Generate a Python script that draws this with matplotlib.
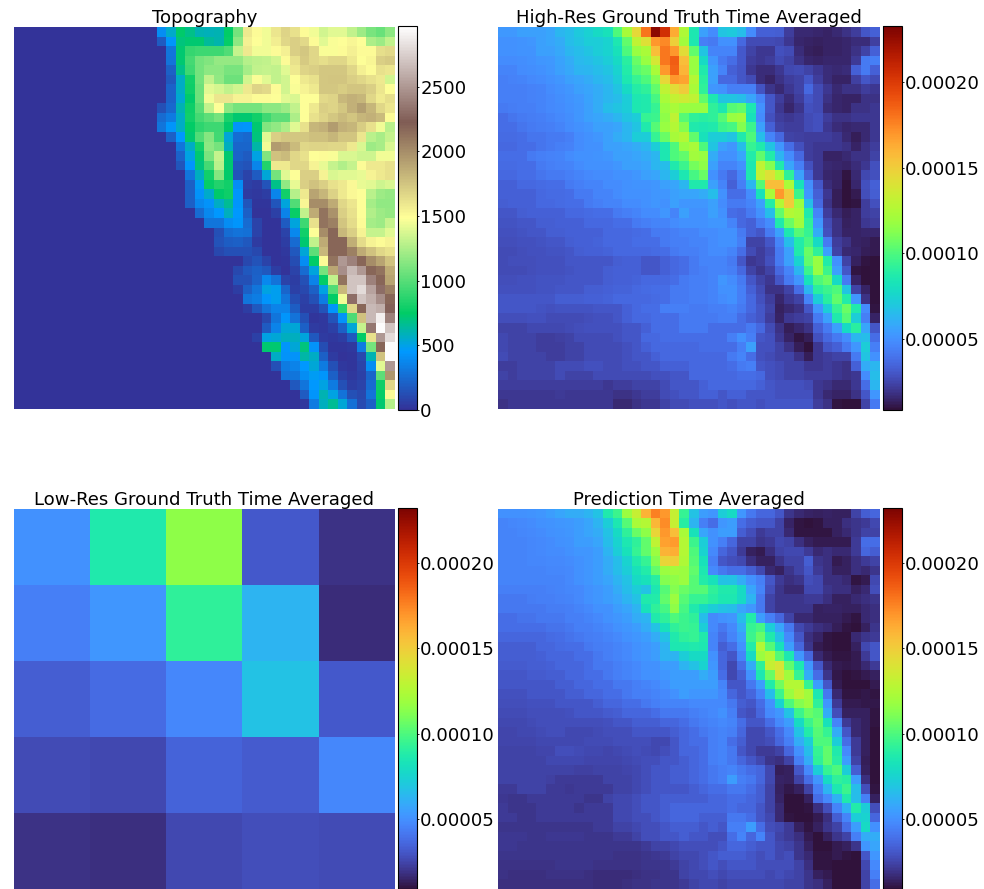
import numpy as np
import matplotlib
matplotlib.use('Agg')
import matplotlib.pyplot as plt

# topography in metres, rows are right aligned, everything left of them is 0
topo_rows = [
    [400,550,740,680,600,590,600,750,1080,1580,1500,1450,1600,1680,1620,1500,1450,1350,1400,1400,1300,1200,1100,1050,1150],
    [180,430,700,720,720,640,610,760,1150,1550,1480,1440,1560,1660,1700,1650,1500,1400,1470,1480,1520,1480,1250,1200,1300],
    [0,300,720,900,920,920,920,980,1320,1580,1450,1450,1500,1550,1700,1740,1660,1470,1470,1500,1550,1500,1500,1630,1650],
    [0,280,720,950,1080,1120,1180,1180,1180,1270,1290,1300,1350,1500,1620,1720,1660,1630,1660,1660,1580,1480,1520,1700,1720],
    [0,200,680,920,1080,1160,1150,1100,1100,1220,1300,1320,1300,1400,1580,1680,1700,1740,1740,1730,1660,1550,1500,1620,1590],
    [0,170,560,800,1080,1300,1170,1060,1060,1350,1470,1400,1300,1350,1480,1580,1620,1730,1750,1750,1700,1660,1620,1580,1350],
    [0,220,560,780,1060,1400,1360,1300,1350,1580,1680,1650,1500,1350,1470,1540,1580,1730,1730,1710,1750,1750,1700,1600,1480],
    [0,220,540,740,1060,1450,1600,1600,1540,1540,1500,1500,1480,1400,1380,1480,1480,1650,1680,1800,1840,1810,1660,1570,1630],
    [130,240,600,780,1000,1300,1480,1150,1080,1080,1080,1150,1150,1200,1300,1480,1580,1700,1680,1730,1840,1920,1820,1660,1590],
    [250,320,560,800,950,1020,1080,820,720,720,800,920,1020,1020,1250,1480,1620,1680,1740,1790,1750,1820,1840,1790,1500],
    [300,430,560,750,880,920,920,740,420,430,720,1120,1170,1250,1400,1620,1820,1840,1930,1840,1820,1710,1620,1450,1280],
    [0,200,450,720,980,1130,930,530,260,240,700,1400,1700,1740,1730,1730,1770,1770,1820,1750,1750,1600,1280,1240,1320],
    [0,0,300,560,800,1150,1080,570,230,230,620,1440,1930,1900,1790,1670,1680,1680,1670,1670,1580,1370,1200,1240,1370],
    [220,500,720,1100,1320,720,220,180,500,1120,1760,1790,1670,1620,1480,1500,1470,1380,1380,1340,1340,1450,1450],
    [160,440,700,950,1280,720,170,150,370,840,1580,1580,1660,1670,1540,1420,1320,1260,1320,1500,1580,1580,1620],
    [300,570,800,1130,740,150,70,180,530,1080,1400,1480,1700,1700,1540,1370,1400,1400,1420,1540,1580,1620],
    [200,470,760,840,800,400,60,40,150,680,1170,1420,1700,1760,1700,1620,1580,1510,1420,1400,1340,1370],
    [200,420,550,740,780,430,40,30,50,360,800,1270,1580,1900,1820,1690,1580,1510,1480,1280,1200,1180],
    [200,380,420,560,660,430,160,20,20,160,520,980,1520,2000,2000,1860,1660,1590,1480,1220,1170,1170],
    [250,380,450,580,450,200,0,0,60,350,770,1300,1860,2120,1980,1700,1620,1480,1260,1200,1180],
    [300,300,400,430,250,70,0,0,180,520,920,1620,2120,2060,1750,1640,1500,1220,1200,1320],
    [130,260,280,270,70,0,0,80,380,800,1480,2000,2180,1800,1700,1540,1320,1320,1400],
    [150,190,200,170,40,0,0,50,250,720,1300,1860,2180,2180,1850,1640,1540,1500,1540],
    [100,130,130,130,100,0,0,30,170,530,1020,1800,2180,2180,2060,1860,1760,1670,1620],
    [100,140,70,0,20,120,400,750,1500,2120,2500,2400,2180,2000,1900,1760],
    [100,170,200,170,50,0,70,250,520,1080,1880,2450,2650,2500,2180,2120,1860],
    [130,130,220,380,280,80,50,130,350,750,1300,2120,2700,2700,2400,2180,1900],
    [50,200,300,500,480,230,60,100,200,500,980,1800,2700,2800,2550,2300,2060],
    [300,330,430,480,300,120,60,130,330,750,1450,2300,2700,2600,2450,2180],
    [50,170,280,350,350,190,50,50,150,440,870,1660,2180,2650,2600,2250],
    [100,300,430,280,130,20,30,150,420,970,1760,2650,2900,2400],
    [180,350,530,530,200,40,30,60,200,530,1320,2350,2950,2700],
    [60,500,530,570,580,520,170,40,30,50,170,750,1620,2500,2800],
    [720,720,430,530,700,420,120,20,20,30,320,1080,2180,2950],
    [560,420,420,620,560,200,40,10,20,100,600,1760,2950],
    [130,320,350,450,530,320,130,30,20,80,400,1400,2500],
    [280,300,400,470,440,200,60,30,60,230,1020,1960],
    [170,300,450,500,320,130,50,80,250,780,1660],
    [180,430,600,500,280,130,100,280,760,1500],
    [30,320,570,650,530,270,110,200,720,1270],
]

# the three rainfall fields, in units of 1e-6
high_res = [
    [53,53,55,55,55,57,63,66,70,74,78,82,100,122,145,180,228,205,163,125,85,55,48,68,70,66,48,33,33,32,22,16,16,15,14,16,18,22,30,33],
    [50,50,51,52,55,57,60,66,68,72,72,75,85,104,130,141,169,174,149,120,85,44,42,50,50,36,26,26,26,25,20,15,14,13,14,14,15,17,17,23],
    [50,50,51,51,55,55,58,63,66,68,72,75,82,100,118,123,156,179,169,143,104,68,46,46,46,31,24,20,20,28,26,17,13,12,14,14,15,18,24,33],
    [48,48,49,50,52,53,56,60,64,66,68,72,78,90,106,118,138,179,187,156,118,78,52,42,38,31,22,20,22,26,24,18,15,14,15,15,15,21,42,44],
    [46,46,48,49,50,52,55,58,62,63,66,68,75,88,102,106,123,169,185,160,118,87,55,46,33,30,20,17,17,20,25,26,24,20,17,16,17,33,42,33],
    [44,45,46,47,48,50,52,55,57,60,63,66,72,85,94,100,112,146,169,166,126,90,55,36,36,30,26,17,14,18,22,24,30,22,17,14,14,23,30,26],
    [44,44,44,45,46,48,50,52,55,57,60,63,68,78,89,92,104,130,143,151,123,92,52,50,44,44,44,29,19,16,20,24,36,26,20,16,18,18,22,20],
    [44,44,44,45,46,47,49,51,53,56,60,63,66,72,85,87,98,123,132,135,130,104,85,68,68,66,57,46,30,22,17,22,30,26,18,15,14,14,18,18],
    [42,43,44,44,46,47,48,50,52,55,60,66,68,72,85,87,94,118,123,118,118,118,92,85,102,104,85,50,30,20,15,19,28,26,17,15,14,18,18,20],
    [38,40,42,43,44,46,47,49,52,55,57,60,63,68,72,94,96,115,130,102,92,90,92,102,118,120,82,48,28,22,20,22,26,28,22,18,18,20,20,20],
    [38,38,40,42,43,44,46,48,50,52,55,55,57,63,68,87,102,118,126,112,87,85,87,96,98,112,96,55,33,24,22,22,26,28,20,17,15,16,16,20],
    [37,37,38,40,40,42,42,44,48,50,52,55,60,63,72,72,94,106,122,126,104,82,72,72,68,87,100,66,46,36,24,23,22,22,22,20,16,12,16,20],
    [36,36,38,38,40,42,44,45,48,50,50,55,55,57,60,63,72,85,100,118,123,100,68,55,52,66,94,87,68,52,38,28,22,20,20,20,18,14,18,22],
    [38,38,38,42,44,45,46,48,50,50,51,52,55,55,57,60,63,85,100,104,120,118,60,50,50,57,88,104,88,62,48,36,22,20,14,14,16,18,18,24],
    [37,37,38,38,42,44,45,46,48,50,50,50,52,55,55,57,63,66,87,96,109,115,55,46,46,50,85,130,112,87,57,44,28,20,16,15,14,17,20,28],
    [36,36,38,38,40,42,42,44,46,47,48,48,50,50,52,55,57,63,72,85,98,106,50,42,36,46,85,132,141,123,92,55,33,20,15,14,10,16,25,28],
    [33,33,36,36,37,38,38,42,44,46,46,48,48,50,51,51,52,55,57,63,87,87,55,46,33,44,63,102,156,156,123,82,49,30,17,14,9,15,28,33],
    [33,33,33,33,36,37,37,38,42,42,46,46,48,50,50,50,52,52,55,57,57,60,66,50,38,38,48,82,123,169,151,96,52,33,20,12,9,11,27,32],
    [32,33,33,33,36,36,37,38,38,42,44,46,46,48,48,50,52,50,55,52,52,52,55,48,42,42,46,55,89,126,151,118,66,36,18,12,8,10,22,28],
    [30,30,32,33,33,33,33,36,36,37,38,38,42,44,46,48,48,52,46,55,50,50,55,50,38,36,42,50,66,104,126,123,87,46,22,16,12,14,22,24],
    [29,29,30,30,32,32,33,33,33,36,36,36,38,38,42,44,46,46,48,50,50,50,52,52,46,36,33,42,48,87,106,120,92,52,26,18,13,14,20,22],
    [28,28,29,30,30,32,32,33,33,33,33,36,36,36,37,38,42,42,44,46,46,48,48,50,50,42,33,30,42,55,85,102,94,60,28,18,14,14,15,15],
    [27,27,28,28,29,30,30,32,33,33,34,36,36,36,38,38,38,42,44,44,46,46,48,50,50,44,24,24,30,46,66,88,98,78,42,22,18,14,13,11],
    [26,26,27,28,28,29,29,30,32,33,33,34,36,36,36,36,37,38,42,44,44,46,48,48,46,38,26,22,26,42,55,87,106,92,55,24,16,15,12,11],
    [26,27,27,27,28,28,28,30,30,30,30,30,32,33,33,30,30,33,36,38,42,46,46,46,42,30,20,22,28,42,55,75,104,118,88,50,24,13,10,8],
    [26,26,26,27,28,28,28,29,30,30,30,32,33,33,33,30,30,33,36,38,42,44,46,46,44,36,24,19,24,36,46,63,96,118,96,55,30,10,8,7],
    [27,27,28,28,29,29,29,30,30,30,30,32,33,33,34,36,36,36,38,42,44,44,46,52,48,42,30,24,20,30,42,52,82,100,106,78,42,14,8,7],
    [28,28,28,28,29,29,30,30,30,32,32,33,34,34,36,37,38,38,42,42,44,44,46,50,50,44,33,26,18,18,24,38,63,90,96,100,68,24,14,6],
    [30,30,30,30,30,30,32,32,32,33,33,34,36,36,36,36,37,38,42,42,44,44,46,48,50,44,36,28,22,15,20,24,46,72,90,104,88,52,18,6],
    [30,30,30,30,29,28,29,29,29,29,30,30,30,33,36,38,38,44,44,44,42,42,44,44,46,42,36,30,24,13,16,18,30,52,72,94,106,87,48,10],
    [27,27,27,28,28,26,26,26,26,27,28,28,30,33,36,36,38,38,38,42,42,42,42,44,44,38,33,30,22,14,20,22,24,42,55,87,102,72,44,14],
    [24,24,24,25,25,25,25,26,27,28,28,28,28,30,30,33,38,38,38,42,42,42,38,38,38,38,42,36,26,18,12,15,18,33,42,55,78,90,57,30],
    [25,24,24,24,22,22,23,24,26,26,26,26,28,30,30,36,36,38,38,38,38,38,38,38,44,50,44,30,28,20,14,10,12,28,36,42,48,63,66,38],
    [25,24,24,24,22,22,22,24,24,26,26,26,26,28,30,33,36,36,36,36,36,38,38,38,38,44,55,28,28,24,18,12,8,20,30,33,42,52,72,44],
    [26,24,24,24,24,22,22,24,24,26,26,26,26,28,30,30,33,36,36,36,36,36,36,36,42,46,38,28,26,24,24,18,12,20,22,24,24,42,68,50],
    [22,22,24,24,24,24,26,26,26,28,28,26,26,28,28,30,30,33,33,33,36,36,36,36,38,42,44,30,28,26,24,24,20,20,22,20,18,33,60,63],
    [24,22,24,24,24,24,26,24,24,24,26,26,26,26,26,26,28,28,30,30,36,36,36,36,36,38,38,36,28,26,24,24,22,22,22,20,18,20,48,66],
    [22,22,22,22,22,22,22,22,22,22,22,20,22,22,24,24,24,26,30,30,30,33,36,36,36,36,36,33,30,28,28,28,26,20,18,16,16,20,38,63],
    [20,20,20,20,20,20,21,20,20,20,20,20,18,18,20,22,22,26,28,30,30,33,33,30,33,33,30,30,30,28,28,28,28,20,16,14,14,18,30,52],
    [18,20,20,20,20,20,20,20,20,20,20,20,16,16,18,20,20,24,26,26,28,28,28,30,28,30,30,28,30,30,30,30,30,22,18,10,9,9,24,42],
]

low_res = [
    [50,87,115,31,19],
    [44,52,92,63,17],
    [33,37,47,68,31],
    [27,26,35,32,47],
    [19,18,26,28,27],
]

prediction = [
    [50,50,50,51,52,55,57,60,60,63,68,87,96,118,132,160,176,169,132,94,68,55,52,72,78,52,42,36,36,30,20,16,15,14,15,14,14,24,33,36],
    [46,47,48,49,50,51,52,53,55,57,63,72,85,102,123,126,158,172,132,90,63,44,38,52,55,38,33,30,30,24,15,10,9,10,14,14,18,20,22,26],
    [46,46,47,48,49,50,51,52,55,57,60,68,78,92,106,115,146,169,156,123,82,57,50,55,55,33,28,22,24,24,16,10,10,10,10,14,16,20,24,24],
    [46,46,46,47,48,49,50,51,55,55,57,66,75,85,92,104,130,166,168,126,96,72,50,44,36,24,24,20,22,26,24,18,14,12,12,12,12,22,38,38],
    [46,46,46,47,48,49,49,50,52,52,55,63,72,82,94,104,118,160,162,126,100,75,48,36,30,22,14,12,18,24,26,26,22,16,18,16,16,22,36,33],
    [46,46,46,47,47,48,48,49,50,52,55,60,66,75,87,94,112,146,149,124,102,82,44,30,28,26,18,14,14,20,24,24,33,20,18,12,14,18,22,24],
    [46,46,46,46,46,47,47,48,50,52,55,60,66,72,82,88,104,118,120,118,104,85,48,42,38,38,33,26,16,14,20,24,30,22,18,14,14,18,16,20],
    [46,46,46,46,46,46,46,48,50,52,55,57,63,68,78,82,90,112,115,118,102,88,82,68,68,60,50,44,30,22,18,20,28,26,18,18,16,10,12,26],
    [44,44,44,44,44,45,46,47,48,50,52,55,60,66,72,68,85,102,112,106,102,102,92,87,87,78,57,46,28,20,16,16,26,26,20,18,18,14,16,28],
    [42,42,42,43,44,44,45,46,48,50,52,55,57,63,68,87,88,104,118,102,94,94,90,85,85,78,63,42,24,20,20,20,22,22,18,14,14,16,18,20],
    [42,42,42,42,42,43,43,44,46,48,50,50,55,57,63,82,92,98,115,98,87,78,72,68,66,57,52,42,24,20,20,20,20,14,15,15,14,14,16,18],
    [38,38,40,40,42,42,42,44,44,46,48,50,52,55,60,63,87,92,100,96,92,66,48,50,52,66,88,55,44,36,24,16,16,14,14,14,12,10,16,18],
    [38,38,38,38,38,40,40,42,44,44,46,48,50,52,55,60,68,82,92,96,94,72,48,42,48,60,94,98,72,57,42,26,22,18,16,13,10,8,14,20],
    [36,36,36,36,36,37,38,40,42,43,44,46,48,50,52,55,60,68,87,92,94,87,46,38,46,55,96,106,87,68,48,30,18,15,10,9,9,16,20,22],
    [33,33,33,33,36,36,37,38,38,42,43,44,46,48,50,52,55,63,85,85,87,85,46,33,38,50,88,126,102,82,55,36,20,12,10,9,9,14,26,30],
    [33,33,33,33,34,36,36,36,38,38,42,44,46,48,50,52,55,63,63,72,78,78,50,36,30,46,78,118,126,102,85,52,36,16,12,10,10,12,22,30],
    [32,32,32,33,33,34,36,36,36,38,42,42,44,46,48,50,50,55,55,63,68,75,52,36,26,38,60,92,132,138,104,85,52,30,16,12,11,12,16,22],
    [30,30,30,32,32,33,33,36,36,38,38,42,44,46,48,50,50,52,55,55,55,60,55,38,26,33,50,85,106,138,120,94,60,38,20,11,9,10,12,14],
    [30,30,30,30,30,30,33,33,36,36,38,38,42,42,44,46,48,50,55,55,55,55,55,46,30,30,42,55,88,108,126,126,94,55,30,12,8,8,8,12],
    [29,29,29,30,30,30,30,33,33,36,36,38,38,42,44,44,46,48,50,55,52,52,52,48,36,30,36,46,66,96,118,130,120,85,42,16,10,10,11,10],
    [28,28,28,29,29,29,30,30,30,30,33,36,36,38,38,42,44,46,46,46,48,48,48,48,42,33,30,38,50,75,100,112,118,92,52,22,12,12,11,11],
    [27,27,27,28,28,28,28,29,30,30,30,32,33,36,36,36,38,42,42,42,44,46,48,50,44,30,28,36,48,52,68,96,106,102,60,28,14,14,14,10],
    [26,26,26,27,28,28,28,28,28,28,28,29,30,30,33,33,33,36,36,38,42,44,46,48,46,38,30,30,38,48,55,78,96,104,82,46,22,16,14,10],
    [25,25,26,26,27,28,28,26,26,26,27,28,28,28,30,30,30,30,33,36,38,42,44,46,44,36,26,26,30,38,48,68,88,102,94,60,30,16,14,9],
    [25,25,25,25,26,26,26,26,26,27,27,27,28,28,28,28,26,26,30,36,38,38,44,46,38,33,26,26,28,36,44,60,72,100,100,72,38,22,14,8],
    [24,24,24,24,25,25,28,28,27,26,26,25,26,27,28,27,26,28,30,36,36,38,44,46,42,30,26,22,22,24,36,50,66,94,104,87,48,22,14,8],
    [24,24,24,24,24,26,26,26,26,25,25,25,25,26,27,28,28,30,30,33,36,38,44,46,42,36,30,26,20,18,24,44,60,92,104,90,55,24,13,6],
    [24,24,24,24,24,24,24,24,23,23,24,24,24,25,26,28,30,30,33,33,36,38,42,44,46,42,38,36,26,13,14,30,48,72,94,100,72,33,14,6],
    [24,24,24,24,24,23,22,22,22,22,22,24,24,24,26,28,30,30,33,33,36,38,42,44,55,44,42,36,26,15,14,24,38,52,78,92,90,55,18,6],
    [22,22,24,24,24,22,22,21,22,22,22,22,24,24,26,28,30,30,30,30,33,36,38,38,42,42,38,33,24,14,11,14,24,44,63,85,96,66,28,10],
    [21,20,20,22,22,22,22,22,22,20,20,24,26,26,28,30,30,33,33,33,33,33,36,36,38,38,36,33,24,15,8,9,14,38,48,62,87,66,44,14],
    [22,20,20,20,22,22,22,22,20,22,22,22,26,26,28,30,30,33,36,36,36,36,36,36,38,36,36,30,24,16,8,9,10,18,28,46,62,88,72,28],
    [22,22,20,20,22,22,22,22,22,22,22,22,26,26,28,28,30,33,36,36,36,33,33,33,42,42,38,30,26,16,10,9,9,12,18,33,46,72,75,36],
    [20,20,20,20,20,20,20,20,20,20,22,22,24,24,26,28,28,30,33,33,33,30,33,30,44,44,55,38,28,26,22,14,10,14,20,24,38,55,78,50],
    [21,21,21,20,20,21,21,21,21,20,20,20,22,22,24,28,28,30,30,33,30,30,28,28,38,46,36,46,30,24,22,18,12,9,14,20,24,44,60,60],
    [21,21,20,20,20,20,20,20,20,20,20,20,20,20,20,22,24,24,26,28,28,28,28,30,36,36,33,30,30,26,24,20,14,9,9,12,14,20,52,57],
    [20,20,20,20,20,20,20,20,20,20,20,20,19,19,19,20,21,22,24,26,26,28,30,33,33,33,30,28,30,26,28,20,16,10,10,12,10,8,30,52],
    [19,19,19,19,19,19,20,20,20,20,19,19,19,19,19,20,20,20,22,24,26,28,30,28,30,30,30,28,28,28,28,24,18,10,10,8,8,8,26,48],
    [19,18,18,18,18,19,19,19,19,18,17,17,17,17,18,19,19,20,20,24,26,26,28,26,28,28,28,28,26,28,26,24,20,14,12,8,8,8,24,44],
    [18,18,18,18,18,18,18,18,18,18,17,17,17,18,19,19,20,20,20,22,24,26,26,24,26,26,26,26,26,26,24,24,20,18,14,8,8,8,24,38],
]

topo_ticks = [0, 500, 1000, 1500, 2000, 2500]
rain_ticks = [0.00005, 0.00010, 0.00015, 0.00020]


def panel(fig, box, cbox, data, title, cmap, vmin, vmax, ticks, fmt):
    W, H = 984.0, 889.0
    x0, y0, x1, y1 = box
    ax = fig.add_axes([x0/W, 1 - y1/H, (x1-x0)/W, (y1-y0)/H])
    im = ax.imshow(data, cmap=cmap, vmin=vmin, vmax=vmax, aspect='auto', interpolation='nearest')
    ax.set_title(title, fontsize=13.1, pad=3)
    ax.axis('off')
    x0, y0, x1, y1 = cbox
    cax = fig.add_axes([x0/W, 1 - y1/H, (x1-x0)/W, (y1-y0)/H])
    cb = fig.colorbar(im, cax=cax)
    cb.set_ticks(ticks)
    cb.set_ticklabels([fmt % t for t in ticks])
    cb.ax.tick_params(labelsize=13.1, length=1.5, width=0.6, pad=0.8)


if __name__ == '__main__':
    topo = np.array([[0]*(40 - len(r)) + r for r in topo_rows], dtype=float)
    fig = plt.figure(figsize=(9.84, 8.89), dpi=100)
    panel(fig, (14, 27, 395, 409), (398, 26, 417, 410), topo, 'Topography',
          'terrain', 0, 2970, topo_ticks, '%d')
    panel(fig, (498, 27, 880, 409), (883, 26, 902, 410), np.array(high_res)*1e-6,
          'High-Res Ground Truth Time Averaged', 'turbo', 0.83e-5, 2.33e-4, rain_ticks, '%.5f')
    panel(fig, (14, 509, 395, 889), (398, 508, 417, 889), np.array(low_res)*1e-6,
          'Low-Res Ground Truth Time Averaged', 'turbo', 0.9e-5, 2.32e-4, rain_ticks, '%.5f')
    panel(fig, (498, 509, 880, 889), (883, 508, 902, 889), np.array(prediction)*1e-6,
          'Prediction Time Averaged', 'turbo', 0.9e-5, 2.32e-4, rain_ticks, '%.5f')
    fig.savefig('out.png', dpi=100)
